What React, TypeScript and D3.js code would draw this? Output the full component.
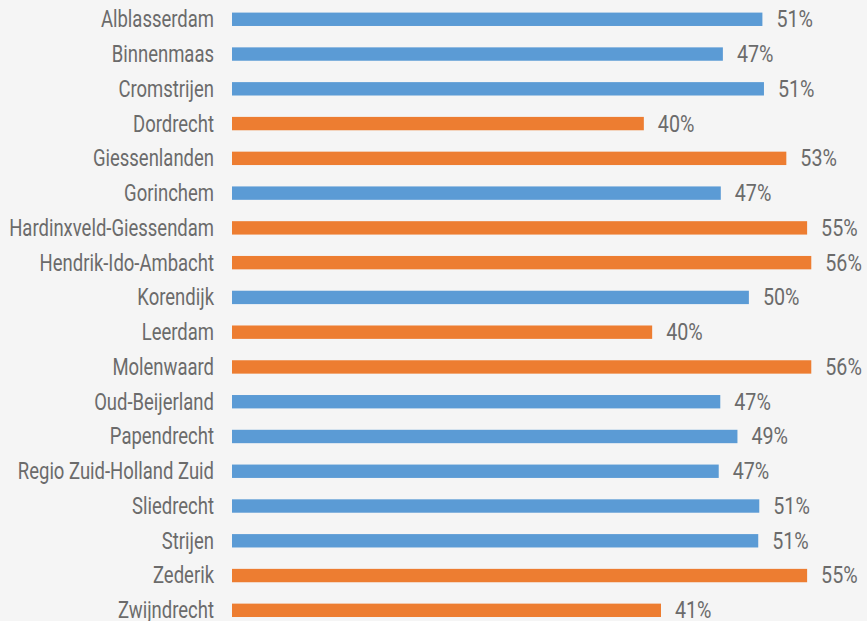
import React from "react";
import * as d3 from "d3";

const categories = [
  "Alblasserdam", "Binnenmaas", "Cromstrijen", "Dordrecht", "Giessenlanden", "Gorinchem",
  "Hardinxveld-Giessendam", "Hendrik-Ido-Ambacht", "Korendijk", "Leerdam", "Molenwaard",
  "Oud-Beijerland", "Papendrecht", "Regio Zuid-Holland Zuid", "Sliedrecht", "Strijen",
  "Zederik", "Zwijndrecht",
];
const values = [
  0.510, 0.472, 0.5115, 0.396, 0.533, 0.470,
  0.553, 0.557, 0.497, 0.404, 0.557,
  0.4695, 0.486, 0.468, 0.507, 0.506,
  0.553, 0.4125,
];
const highlighted = [
  false, false, false, true, true, false,
  true, true, false, true, true,
  false, false, false, false, false,
  true, true,
];

const W = 867;
const H = 621;
const BLUE = "#5b9bd5";
const ORANGE = "#ed7d31";
const TEXT = "#6b6b6b";
const FONT = "Roboto, 'Noto Sans', sans-serif";
const SX = 0.77;
const SXV = 0.82;

export default function App() {
  const x = d3.scaleLinear().domain([0, 0.6]).range([232, 856]);
  const y = d3.scaleBand<string>().domain(categories).range([1.9, 627.7]).paddingInner(0.615).paddingOuter(0.3075);
  const fmt = d3.format(".0%");
  return (
    <svg width={W} height={H} style={{ position: "absolute", left: 0, top: 0, background: "#f5f5f5" }}
      fontFamily={FONT}>
      <rect x={0} y={0} width={W} height={H} fill="#f5f5f5" />
      {categories.map((c, i) => {
        const yy = y(c)!;
        const cy = yy + y.bandwidth() / 2;
        return (
          <g key={c}>
            <rect x={x(0)} y={yy} width={x(values[i]) - x(0)} height={y.bandwidth()}
              fill={highlighted[i] ? ORANGE : BLUE} />
            <text transform={`translate(214,${cy}) scale(${SX},1)`} dy="0.33em" textAnchor="end"
              fontSize={24} fill={TEXT}>{c}</text>
            <text transform={`translate(${x(values[i]) + 14},${cy}) scale(${SXV},1)`} dy="0.33em"
              fontSize={24} fill={TEXT}>{fmt(values[i])}</text>
          </g>
        );
      })}
    </svg>
  );
}
